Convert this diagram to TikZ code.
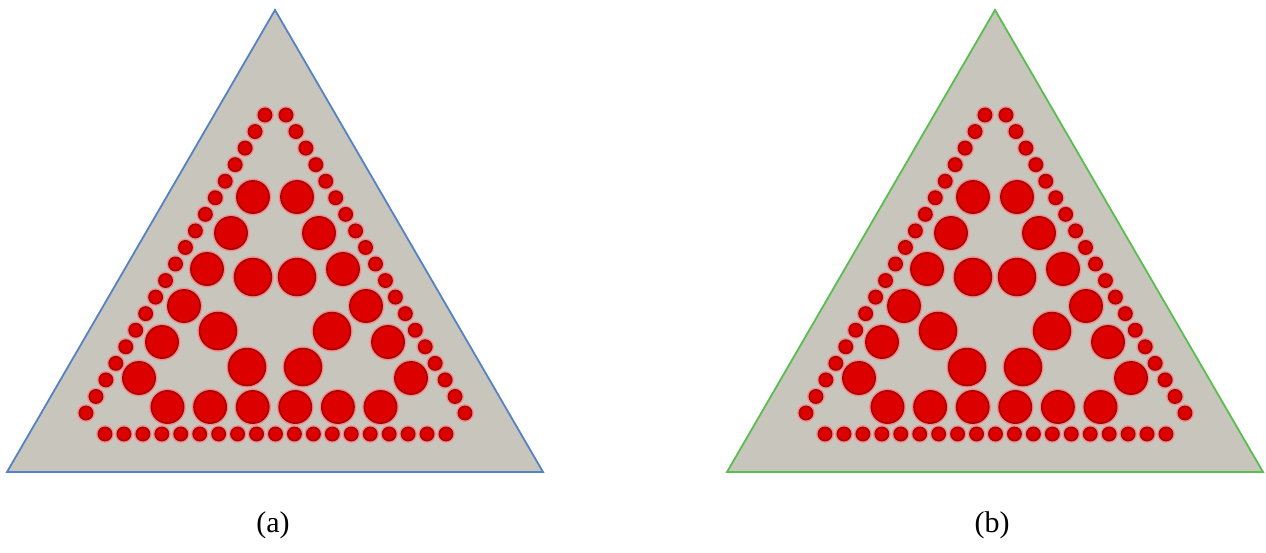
\documentclass[tikz,border=0pt]{standalone}
\usepackage{fontspec}
\setmainfont{Liberation Serif}
\definecolor{trifill}{RGB}{200,197,189}
\definecolor{bluebd}{RGB}{84,130,196}
\definecolor{greenbd}{RGB}{88,190,78}
\definecolor{dotred}{RGB}{220,0,0}
\definecolor{dotrim}{RGB}{160,8,8}
\definecolor{dothalo}{RGB}{248,140,140}
\tikzset{
  halo/.style={fill=dothalo},
  ball/.style={fill=dotred, draw=dotrim, line width=1.5pt},
  tri/.style={fill=trifill, line width=1.8pt, line join=miter},
  caption/.style={font=\fontsize{30}{34}\selectfont, inner sep=0pt}
}
\newcommand\ballat[3]{%
  \fill[halo] (#1,#2) circle[radius=#3pt+1.4pt];
  \filldraw[ball] (#1,#2) circle[radius=#3pt-0.8pt];}
\newcommand\drawpanel[2]{%
  \begin{scope}[xshift=#1]
    \draw[tri, draw=#2] (275,10) -- (7,472) -- (543,472) -- cycle;
    % small dots: left, right, bottom rows
    \foreach \i in {0,...,18} {
      \ballat{265-9.944*\i}{115+16.556*\i}{7.5}
      \ballat{286+9.944*\i}{115+16.556*\i}{7.5}
      \ballat{105+18.944*\i}{434}{7.5}
    }
    % big circles
    \foreach \x/\y in {253/197,297/197,231/233,319/233,207/269,343/269,
                       184/306,366/306,162/342,388/342,139/378,411/378,
                       167.5/407,210.1/407,252.7/407,295.3/407,337.9/407,380.5/407} {
      \ballat{\x}{\y}{17}
    }
    % inner inverted triangle circles
    \foreach \x/\y in {253/277,297/277,218/331,332/331,247/367,303/367} {
      \ballat{\x}{\y}{19.3}
    }
  \end{scope}}
\begin{document}
\begin{tikzpicture}[x=1pt,y=-1pt]
  \useasboundingbox (0,0) rectangle (1266,552);
  \fill[white] (0,0) rectangle (1266,552);
  \drawpanel{0pt}{bluebd}
  \drawpanel{720pt}{greenbd}
  \node[caption] (capa) at (273,525) {(a)};
  \node[caption] (capb) at (992,525) {(b)};
\end{tikzpicture}
\end{document}
